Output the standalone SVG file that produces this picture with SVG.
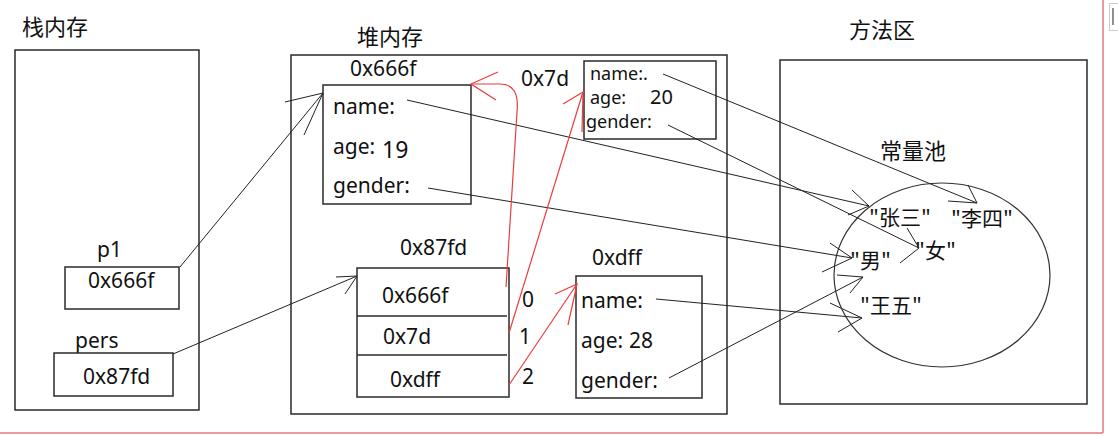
<svg xmlns="http://www.w3.org/2000/svg" width="1118" height="436" viewBox="0 0 1118 436">
<style>
.box{fill:none;stroke:#2a2a2a;stroke-width:1.5}
.t{font-family:"Noto Sans","DejaVu Sans",sans-serif;font-size:21px;fill:#111}
.s{font-family:"Noto Sans","DejaVu Sans",sans-serif;font-size:18px;fill:#111}
.c{font-family:"Noto Sans CJK SC","Noto Sans",sans-serif;font-size:22px;fill:#111}
.p{font-family:"Noto Sans CJK SC","Noto Sans",sans-serif;font-size:21px;fill:#111}
.k{fill:none;stroke:#222;stroke-width:1}
.r{fill:none;stroke:#ee3b3b;stroke-width:1.2}
</style>
<rect width="1118" height="436" fill="#fff"/>
<g id="frame">
<line x1="1103" y1="0" x2="1103" y2="433" stroke="#e07a7a" stroke-width="1.5"/>
<line x1="0" y1="433" x2="1103" y2="433" stroke="#e07a7a" stroke-width="1.5"/>
<rect x="1109.500" y="3.500" width="10" height="27" fill="#fff" stroke="#ccc"/>
<line x1="1113" y1="8" x2="1113" y2="25" stroke="#444" stroke-width="1.2"/>
</g>
<g id="stack">
<text class="c" x="22" y="35">栈内存</text>
<rect class="box" x="15" y="50" width="184" height="360"/>
</g>
<g id="p1">
<text class="t" x="97" y="257">p1</text>
<rect class="box" x="65" y="267" width="114" height="42"/>
<text class="t" x="88" y="288">0x666f</text>
</g>
<g id="pers">
<text class="t" x="75" y="348">pers</text>
<rect class="box" x="54" y="353" width="119" height="43"/>
<text class="t" x="83" y="384">0x87fd</text>
</g>
<g id="heap">
<text class="c" x="357" y="45">堆内存</text>
<rect class="box" x="291" y="55" width="436" height="359"/>
</g>
<g id="obj-0x666f">
<text class="t" x="350" y="76">0x666f</text>
<rect class="box" x="323" y="85" width="148" height="119"/>
<text class="t" x="333" y="114">name:</text>
<text class="t" x="333" y="154">age:</text>
<text class="t" x="382" y="158" style="font-size:23px">19</text>
<text class="t" x="333" y="193">gender:</text>
</g>
<g id="obj-0x7d">
<text class="t" x="521" y="86">0x7d</text>
<rect class="box" x="584" y="61" width="132" height="78"/>
<text class="s" x="590" y="80">name:.</text>
<text class="s" x="590" y="104">age:</text>
<text class="s" x="650" y="104" style="font-size:20px">20</text>
<text class="s" x="586" y="128">gender:</text>
</g>
<g id="arr-0x87fd">
<text class="t" x="400" y="255">0x87fd</text>
<rect class="box" x="357" y="268" width="152" height="129"/>
<line class="box" x1="357" y1="316" x2="507" y2="316"/>
<line class="box" x1="357" y1="355" x2="507" y2="355"/>
<text class="t" x="382" y="303">0x666f</text>
<text class="t" x="383" y="344">0x7d</text>
<text class="t" x="390" y="387">0xdff</text>
<text class="t" x="522" y="307">0</text>
<text class="t" x="519" y="344">1</text>
<text class="t" x="522" y="384">2</text>
</g>
<g id="obj-0xdff">
<text class="t" x="592" y="265">0xdff</text>
<rect class="box" x="576" y="276" width="126" height="122"/>
<text class="t" x="581" y="308">name:</text>
<text class="t" x="581" y="348">age:</text>
<text class="t" x="629" y="348">28</text>
<text class="t" x="581" y="388">gender:</text>
</g>
<g id="method">
<text class="c" x="849" y="38">方法区</text>
<rect class="box" x="780" y="60" width="307" height="344"/>
</g>
<g id="pool">
<text class="c" x="880" y="159">常量池</text>
<ellipse cx="942" cy="275" rx="108" ry="92" fill="none" stroke="#333" stroke-width="1.2"/>
<text class="p" x="869" y="225">"张三"</text>
<text class="p" x="951" y="226">"李四"</text>
<text class="p" x="915" y="258">"女"</text>
<text class="p" x="850" y="268">"男"</text>
<text class="p" x="860" y="313">"王五"</text>
</g>
<g id="connectors">
<line class="k" x1="180" y1="267" x2="323" y2="93"/>
<polyline class="k" points="285,102 323,93 304,135"/>
<line class="k" x1="173" y1="354" x2="357" y2="276"/>
<polyline class="k" points="336,277 357,276 345,294"/>
<line class="k" x1="407" y1="100" x2="869" y2="206"/>
<polyline class="k" points="852,190 869,206 848,215"/>
<line class="k" x1="663" y1="74" x2="977" y2="203"/>
<polyline class="k" points="948,201 977,203 968,185"/>
<line class="k" x1="668" y1="125" x2="919" y2="248"/>
<polyline class="k" points="907,228 919,248 900,263"/>
<line class="k" x1="428" y1="188" x2="852" y2="258"/>
<polyline class="k" points="830,243 852,258 822,272"/>
<line class="k" x1="656" y1="299" x2="862" y2="318"/>
<polyline class="k" points="830,303 862,318 838,332"/>
<line class="k" x1="669" y1="378" x2="863" y2="277"/>
<polyline class="k" points="837,275 863,277 850,293"/>
<path class="r" d="M506,287 L517,112 Q520,84 500,84 L471,84"/>
<polyline class="r" points="498,72 471,84 496,100"/>
<line class="r" x1="509" y1="333" x2="583" y2="92"/>
<polyline class="r" points="563,104 583,92 582,132"/>
<line class="r" x1="509" y1="385" x2="577" y2="284"/>
<polyline class="r" points="555,294 577,284 568,325"/>
</g>
</svg>
